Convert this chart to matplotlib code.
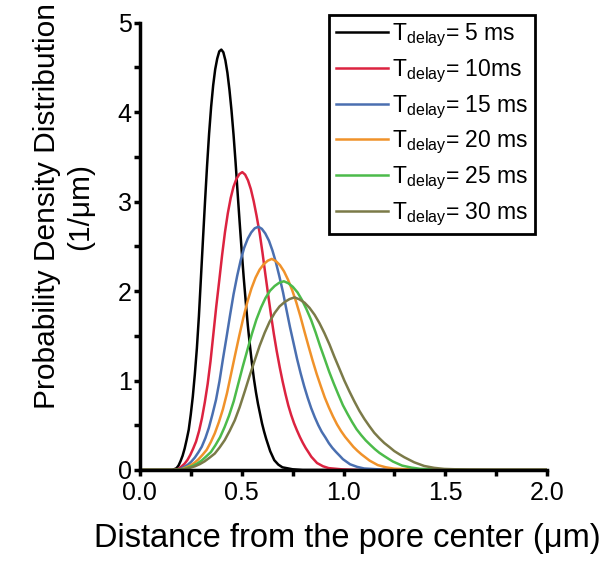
import numpy as np
import matplotlib
matplotlib.use('Agg')
import matplotlib.pyplot as plt
from matplotlib.ticker import MultipleLocator, FormatStrFormatter

plt.rcParams['font.family'] = ['Liberation Sans', 'DejaVu Sans']
plt.rcParams['mathtext.fontset'] = 'custom'
plt.rcParams['mathtext.rm'] = 'Liberation Sans'

# probability density vs distance, one curve per delay time
x_5ms = [0.0, 0.16, 0.17, 0.18, 0.19, 0.20, 0.21, 0.22, 0.23, 0.24, 0.25, 0.26, 0.27, 0.28,
         0.29, 0.30, 0.31, 0.32, 0.33, 0.34, 0.35, 0.36, 0.37, 0.38, 0.39, 0.40, 0.41, 0.42,
         0.43, 0.44, 0.45, 0.46, 0.47, 0.48, 0.49, 0.50, 0.51, 0.52, 0.53, 0.54, 0.55, 0.56,
         0.57, 0.58, 0.59, 0.60, 0.61, 0.62, 0.63, 0.64, 0.66, 0.68, 0.70, 0.75, 0.80, 2.0]
y_5ms = [0.0, 0.0, 0.01, 0.02, 0.05, 0.10, 0.16, 0.24, 0.34, 0.45, 0.62, 0.82, 1.07, 1.36,
         1.72, 2.15, 2.58, 3.00, 3.40, 3.76, 4.06, 4.30, 4.48, 4.60, 4.68, 4.70, 4.67, 4.58,
         4.44, 4.25, 4.02, 3.75, 3.44, 3.10, 2.77, 2.45, 2.15, 1.88, 1.62, 1.40, 1.20, 1.02,
         0.87, 0.74, 0.63, 0.52, 0.43, 0.35, 0.28, 0.21, 0.11, 0.06, 0.03, 0.008, 0.0, 0.0]

x_10ms = [0.0, 0.163, 0.192, 0.220, 0.234, 0.248, 0.262, 0.276, 0.291, 0.305, 0.319, 0.333,
          0.347, 0.361, 0.375, 0.390, 0.404, 0.418, 0.432, 0.446, 0.460, 0.474, 0.489, 0.503,
          0.517, 0.531, 0.545, 0.559, 0.573, 0.588, 0.602, 0.616, 0.630, 0.644, 0.658, 0.672,
          0.687, 0.701, 0.715, 0.729, 0.743, 0.757, 0.771, 0.786, 0.800, 0.814, 0.828, 0.842,
          0.870, 0.899, 0.927, 0.998, 1.068, 2.0]
y_10ms = [0.0, 0.0, 0.014, 0.071, 0.113, 0.170, 0.240, 0.318, 0.438, 0.580, 0.757, 0.962,
          1.216, 1.520, 1.824, 2.121, 2.404, 2.659, 2.871, 3.040, 3.168, 3.253, 3.309, 3.330,
          3.302, 3.238, 3.140, 3.005, 2.843, 2.652, 2.432, 2.192, 1.959, 1.732, 1.520, 1.329,
          1.146, 0.990, 0.849, 0.721, 0.615, 0.523, 0.445, 0.368, 0.304, 0.247, 0.198, 0.148,
          0.078, 0.042, 0.021, 0.006, 0.0, 0.0]

x_15ms = [0.0, 0.166, 0.200, 0.235, 0.252, 0.270, 0.287, 0.304, 0.322, 0.339, 0.356, 0.374,
          0.391, 0.408, 0.426, 0.443, 0.460, 0.478, 0.495, 0.512, 0.530, 0.547, 0.564, 0.582,
          0.599, 0.616, 0.634, 0.651, 0.668, 0.685, 0.703, 0.720, 0.737, 0.755, 0.772, 0.789,
          0.807, 0.824, 0.841, 0.859, 0.876, 0.893, 0.911, 0.928, 0.945, 0.963, 0.980, 0.997,
          1.032, 1.067, 1.101, 1.188, 1.274, 2.0]
y_15ms = [0.0, 0.0, 0.012, 0.058, 0.092, 0.139, 0.196, 0.260, 0.358, 0.473, 0.618, 0.785,
          0.993, 1.241, 1.490, 1.732, 1.963, 2.171, 2.344, 2.483, 2.587, 2.656, 2.702, 2.720,
          2.696, 2.644, 2.563, 2.454, 2.321, 2.165, 1.986, 1.790, 1.599, 1.415, 1.241, 1.085,
          0.935, 0.808, 0.693, 0.589, 0.502, 0.427, 0.364, 0.300, 0.248, 0.202, 0.162, 0.121,
          0.064, 0.035, 0.017, 0.005, 0.0, 0.0]

x_20ms = [0.0, 0.168, 0.208, 0.248, 0.268, 0.288, 0.308, 0.328, 0.348, 0.368, 0.388, 0.408,
          0.428, 0.448, 0.468, 0.488, 0.508, 0.528, 0.548, 0.568, 0.588, 0.608, 0.628, 0.648,
          0.668, 0.688, 0.708, 0.728, 0.748, 0.768, 0.788, 0.808, 0.828, 0.848, 0.868, 0.888,
          0.908, 0.928, 0.948, 0.968, 0.988, 1.008, 1.028, 1.048, 1.068, 1.088, 1.108, 1.128,
          1.168, 1.208, 1.248, 1.348, 1.448, 2.0]
y_20ms = [0.0, 0.0, 0.010, 0.050, 0.080, 0.120, 0.170, 0.225, 0.310, 0.410, 0.535, 0.680,
          0.860, 1.075, 1.290, 1.500, 1.700, 1.880, 2.030, 2.150, 2.240, 2.300, 2.340, 2.360,
          2.335, 2.290, 2.220, 2.125, 2.010, 1.875, 1.720, 1.550, 1.385, 1.225, 1.075, 0.940,
          0.810, 0.700, 0.600, 0.510, 0.435, 0.370, 0.315, 0.260, 0.215, 0.175, 0.140, 0.105,
          0.055, 0.030, 0.015, 0.004, 0.0, 0.0]

x_25ms = [0.0, 0.170, 0.215, 0.259, 0.282, 0.304, 0.326, 0.349, 0.371, 0.394, 0.416, 0.438,
          0.461, 0.483, 0.505, 0.528, 0.550, 0.572, 0.595, 0.617, 0.639, 0.662, 0.684, 0.707,
          0.729, 0.751, 0.774, 0.796, 0.818, 0.841, 0.863, 0.885, 0.908, 0.930, 0.953, 0.975,
          0.997, 1.020, 1.042, 1.064, 1.087, 1.109, 1.131, 1.154, 1.176, 1.199, 1.221, 1.243,
          1.288, 1.333, 1.377, 1.489, 1.601, 2.0]
y_25ms = [0.0, 0.0, 0.009, 0.045, 0.072, 0.107, 0.152, 0.201, 0.277, 0.367, 0.479, 0.608,
          0.769, 0.962, 1.154, 1.342, 1.521, 1.681, 1.816, 1.923, 2.004, 2.057, 2.093, 2.110,
          2.088, 2.048, 1.986, 1.901, 1.798, 1.677, 1.538, 1.386, 1.239, 1.096, 0.962, 0.841,
          0.724, 0.626, 0.537, 0.456, 0.389, 0.331, 0.282, 0.233, 0.192, 0.157, 0.125, 0.094,
          0.049, 0.027, 0.013, 0.004, 0.0, 0.0]

x_30ms = [0.0, 0.172, 0.221, 0.270, 0.294, 0.319, 0.343, 0.368, 0.392, 0.417, 0.441, 0.466,
          0.490, 0.515, 0.539, 0.564, 0.588, 0.613, 0.637, 0.662, 0.686, 0.711, 0.735, 0.760,
          0.784, 0.809, 0.833, 0.858, 0.882, 0.906, 0.931, 0.955, 0.980, 1.004, 1.029, 1.053,
          1.078, 1.102, 1.127, 1.151, 1.176, 1.200, 1.225, 1.249, 1.274, 1.298, 1.323, 1.347,
          1.396, 1.445, 1.494, 1.617, 1.739, 2.0]
y_30ms = [0.0, 0.0, 0.008, 0.041, 0.065, 0.098, 0.139, 0.184, 0.253, 0.335, 0.437, 0.555,
          0.702, 0.878, 1.053, 1.225, 1.388, 1.535, 1.657, 1.756, 1.829, 1.878, 1.911, 1.930,
          1.907, 1.870, 1.813, 1.735, 1.641, 1.531, 1.404, 1.266, 1.131, 1.000, 0.878, 0.768,
          0.661, 0.572, 0.490, 0.416, 0.355, 0.302, 0.257, 0.212, 0.176, 0.143, 0.114, 0.086,
          0.045, 0.024, 0.012, 0.003, 0.0, 0.0]

delays = ['5 ms', '10ms', '15 ms', '20 ms', '25 ms', '30 ms']
colors = ['#000000', '#dc2340', '#4a6fb0', '#f0922a', '#4cbb4a', '#7b7a48']
curves = [(x_5ms, y_5ms), (x_10ms, y_10ms), (x_15ms, y_15ms),
          (x_20ms, y_20ms), (x_25ms, y_25ms), (x_30ms, y_30ms)]

fig = plt.figure(figsize=(6.08, 5.69), dpi=100)
ax = fig.add_axes([0.230, 0.174, 0.670, 0.786])

for (xs, ys), d, c in zip(curves, delays, colors):
    ax.plot(xs, ys, color=c, lw=1.8, label=r'T$_{\mathrm{delay}}$= ' + d)

ax.set_xlim(0, 2.0)
ax.set_ylim(0, 5)
ax.spines['top'].set_visible(False)
ax.spines['right'].set_visible(False)
ax.spines['left'].set_linewidth(2.5)
ax.spines['bottom'].set_linewidth(2.5)

ax.xaxis.set_major_locator(MultipleLocator(0.5))
ax.xaxis.set_minor_locator(MultipleLocator(0.25))
ax.yaxis.set_major_locator(MultipleLocator(1))
ax.yaxis.set_minor_locator(MultipleLocator(0.5))
ax.xaxis.set_major_formatter(FormatStrFormatter('%.1f'))
ax.tick_params(which='both', direction='out', length=4, width=2.5, labelsize=18)
ax.tick_params(axis='x', pad=4)
ax.tick_params(axis='y', pad=2)

ax.set_xlabel('Distance from the pore center (\u03bcm)', fontsize=23.5)
ax.xaxis.set_label_coords(0.51, -0.118)
ax.set_ylabel('Probability Density Distribution\n(1/\u03bcm)', fontsize=21.5,
              linespacing=1.22)
ax.yaxis.set_label_coords(-0.112, 0.590)

leg = ax.legend(loc='upper right', bbox_to_anchor=(535 / 608, 1 - 15 / 569),
                bbox_transform=fig.transFigure, borderaxespad=0, fontsize=16.5,
                fancybox=False, framealpha=1, edgecolor='black', handlelength=2.3,
                handletextpad=0.15, labelspacing=0.36, borderpad=0.3)
leg.get_frame().set_linewidth(2)

fig.savefig('out.png', dpi=100)
